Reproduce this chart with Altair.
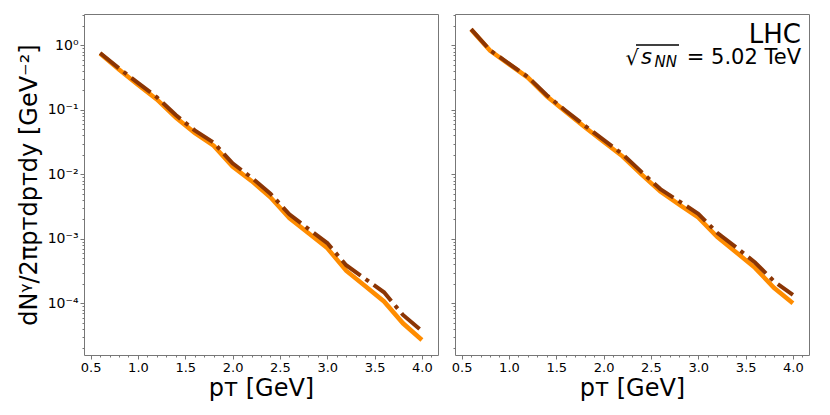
import altair as alt
import pandas as pd

FONT = "DejaVu Sans"

# transverse momentum grid [GeV]
pt = [0.6, 0.8, 1.0, 1.2, 1.4, 1.6, 1.8, 2.0, 2.2, 2.4, 2.6, 2.8, 3.0, 3.2, 3.4, 3.6, 3.8, 4.0]

# left panel
left_solid = [0.745, 0.42, 0.245, 0.145, 0.076, 0.044, 0.0278, 0.0132, 0.0079, 0.0044,
              0.0021, 0.00123, 0.00072, 0.00032, 0.000186, 0.000107, 0.000049, 0.000027]
left_dashdot = [0.76, 0.44, 0.262, 0.157, 0.083, 0.048, 0.031, 0.0148, 0.0089, 0.005,
                0.0024, 0.00143, 0.00086, 0.00039, 0.00024, 0.000148, 0.000066, 0.0000372]

# right panel
right_solid = [1.76, 0.83, 0.51, 0.316, 0.162, 0.093, 0.054, 0.032, 0.019, 0.0100,
               0.0054, 0.0034, 0.00214, 0.00107, 0.00062, 0.000355, 0.000174, 0.000100]
right_dashdot = [1.78, 0.84, 0.52, 0.324, 0.168, 0.097, 0.057, 0.0343, 0.0205, 0.0109,
                 0.0059, 0.0038, 0.00245, 0.00124, 0.00074, 0.00043, 0.00022, 0.000135]

x_tick_values = [0.5, 0.6, 0.7, 0.8, 0.9, 1.0, 1.1, 1.2, 1.3, 1.4, 1.5, 1.6, 1.7, 1.8, 1.9,
                 2.0, 2.1, 2.2, 2.3, 2.4, 2.5, 2.6, 2.7, 2.8, 2.9, 3.0, 3.1, 3.2, 3.3, 3.4,
                 3.5, 3.6, 3.7, 3.8, 3.9, 4.0, 4.1]
y_tick_values = []
for e in [1e-5, 1e-4, 1e-3, 1e-2, 1e-1, 1.0]:
    for m in [1, 2, 3, 4, 5, 6, 7, 8, 9]:
        v = m * e
        if 1.58e-5 <= v <= 3.06:
            y_tick_values.append(v)

x_label = "pᴛ [GeV]"
y_label = "dNᵞ/2πpᴛdpᴛdy [GeV⁻²]"
ann_lhc = ["LHC"]
ann_energy = ["= 5.02 TeV"]
ann_s = ["s"]
ann_nn = ["NN"]
ann_sqrt = ["√"]

ORANGE = "#ff8c00"
BROWN = "#8b3504"
FRAME = "#777777"

XMIN, XMAX = 0.43, 4.17
YMIN, YMAX = 1.58e-5, 3.06
W, H = 354, 341

x_minor = "abs(datum.value*2 - round(datum.value*2)) > 0.01"
y_minor = "abs(log(datum.value)/LN10 - round(log(datum.value)/LN10)) > 0.01"
y_exp = "round(log(datum.value)/LN10)"
y_label_expr = (
    f"{y_minor} ? '' : ({y_exp} == 0 ? '10⁰' : {y_exp} == -1 ? '10⁻¹' : "
    f"{y_exp} == -2 ? '10⁻²' : {y_exp} == -3 ? '10⁻³' : {y_exp} == -4 ? '10⁻⁴' : '')"
)


def x_enc():
    return alt.X(
        "pt:Q",
        scale=alt.Scale(domain=[XMIN, XMAX], nice=False, zero=False),
        axis=alt.Axis(
            values=x_tick_values,
            labelExpr=f"{x_minor} ? '' : format(datum.value, '.1f')",
            tickSize={"condition": {"test": x_minor, "value": 2}, "value": 4},
            labelFontSize={"condition": {"test": x_minor, "value": 0}, "value": 13},
            labelOverlap=False,
            labelFlush=False,
            domain=False,
            grid=False,
            tickColor=FRAME,
            labelFont=FONT,
            labelColor="black",
            labelPadding=2,
            title=x_label,
            titleFont=FONT,
            titleFontSize=24,
            titleFontWeight="normal",
            titleColor="black",
            titlePadding=2,
        ),
    )


def y_enc(show):
    if show:
        axis = alt.Axis(
            values=y_tick_values,
            labelExpr=y_label_expr,
            tickSize={"condition": {"test": y_minor, "value": 2}, "value": 4},
            labelFontSize={"condition": {"test": y_minor, "value": 0}, "value": 14},
            labelOverlap=False,
            labelFlush=False,
            domain=False,
            grid=False,
            tickColor=FRAME,
            labelFont=FONT,
            labelColor="black",
            labelPadding=2,
            title=y_label,
            titleFont=FONT,
            titleFontSize=24,
            titleFontWeight="normal",
            titleColor="black",
            titlePadding=6,
        )
        return alt.Y("v:Q", scale=alt.Scale(type="log", domain=[YMIN, YMAX], nice=False), axis=axis)
    axis = alt.Axis(
        values=y_tick_values,
        labels=False,
        tickSize={"condition": {"test": y_minor, "value": 2}, "value": 4},
        domain=False,
        grid=False,
        tickColor=FRAME,
    )
    return alt.Y("v:Q", scale=alt.Scale(type="log", domain=[YMIN, YMAX], nice=False), axis=axis, title=None)


def panel(solid, dashdot, show_y, annotate):
    d1 = pd.DataFrame({"pt": pt, "v": solid})
    d2 = pd.DataFrame({"pt": pt, "v": dashdot})
    l1 = alt.Chart(d1).mark_line(color=ORANGE, strokeWidth=4.5, clip=True).encode(
        x=x_enc(), y=y_enc(show_y))
    l2 = alt.Chart(d2).mark_line(color=BROWN, strokeWidth=4, strokeDash=[24, 6, 4, 6],
                                 strokeCap="butt", clip=True).encode(x=x_enc(), y=y_enc(show_y))
    layers = [l1, l2]
    if annotate:
        t_lhc = alt.Chart(pd.DataFrame({"t": ann_lhc})).mark_text(
            align="right", baseline="alphabetic", font=FONT, fontSize=26, color="black"
        ).encode(x=alt.value(346), y=alt.value(29), text="t:N")
        t_en = alt.Chart(pd.DataFrame({"t": ann_energy})).mark_text(
            align="right", baseline="alphabetic", font=FONT, fontSize=21, color="black"
        ).encode(x=alt.value(346), y=alt.value(50), text="t:N")
        t_nn = alt.Chart(pd.DataFrame({"t": ann_nn})).mark_text(
            align="right", baseline="alphabetic", font=FONT, fontSize=15, fontStyle="italic", color="black"
        ).encode(x=alt.value(222), y=alt.value(53), text="t:N")
        t_s = alt.Chart(pd.DataFrame({"t": ann_s})).mark_text(
            align="right", baseline="alphabetic", font=FONT, fontSize=21, fontStyle="italic", color="black"
        ).encode(x=alt.value(197), y=alt.value(50), text="t:N")
        t_sq = alt.Chart(pd.DataFrame({"t": ann_sqrt})).mark_text(
            align="right", baseline="alphabetic", font=FONT, fontSize=21, color="black"
        ).encode(x=alt.value(184), y=alt.value(51), text="t:N")
        bar = alt.Chart(pd.DataFrame({"t": ann_sqrt})).mark_rule(color="black", strokeWidth=1.3).encode(
            x=alt.value(181), x2=alt.value(224), y=alt.value(31))
        layers += [t_lhc, t_en, t_nn, t_s, t_sq, bar]
    return alt.layer(*layers).properties(width=W, height=H)


left = panel(left_solid, left_dashdot, True, False)
right = panel(right_solid, right_dashdot, False, True)

chart = (
    alt.hconcat(left, right, spacing=11)
    .properties(padding={"left": 8, "top": 5, "right": 5, "bottom": 5}, background="white")
    .configure_view(stroke=FRAME, strokeWidth=1)
)

chart.save("out.html", embed_options={"renderer": "svg", "actions": False})
